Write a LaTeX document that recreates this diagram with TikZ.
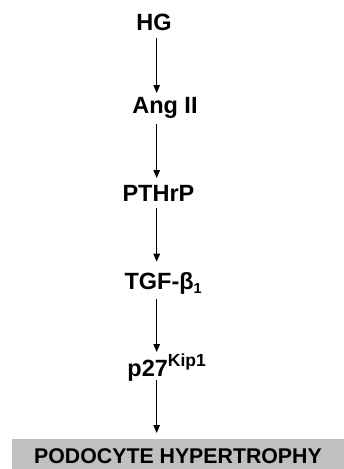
\documentclass[tikz,border=0pt]{standalone}
\usepackage{fontspec}
\setmainfont{Liberation Sans}
\usetikzlibrary{arrows.meta}
\definecolor{boxgray}{HTML}{C0C0C0}
\begin{document}
\begin{tikzpicture}[x=1pt,y=1pt,
  lbl/.style={font=\bfseries\fontsize{23.5}{28}\selectfont, inner sep=0pt, outer sep=0pt, anchor=base west},
  arr/.style={line width=1.3pt, -{Triangle[length=8pt,width=6.5pt]}},
  endbox/.style={fill=boxgray, draw=none, inner sep=0pt, outer sep=0pt,
    minimum width=332pt, minimum height=30pt, text height=18.6pt, text depth=0pt,
    font=\bfseries\fontsize{21.3}{25}\selectfont}
  ]
\useasboundingbox (0,0) rectangle (344,-469);
\coordinate (ax) at (156.7,0);
\node[lbl] (hg)  at (136.3,-30.7)  {HG};
\node[lbl] (ang) at (132.3,-113.3) {Ang II};
\node[lbl] (pth) at (122.5,-201.3) {PTHrP};
\node[lbl] (tgf) at (124.5,-289.3) {TGF-β\raisebox{-4.4pt}{\fontsize{14.5}{16}\selectfont 1}};
\node[lbl] (p27) at (127.4,-376.7) {p27\raisebox{10pt}{\fontsize{17.5}{19}\selectfont Kip1}};
\node[endbox] (box) at (178,-454) {PODOCYTE HYPERTROPHY};
\draw[arr, shorten <=7.3pt, shorten >=20.3pt] (hg.base -| ax) -- (ang.base -| ax);
\draw[arr, shorten <=10.7pt, shorten >=23.3pt] (ang.base -| ax) -- (pth.base -| ax);
\draw[arr, shorten <=6.7pt, shorten >=27.6pt] (pth.base -| ax) -- (tgf.base -| ax);
\draw[arr, shorten <=9.7pt, shorten >=24.7pt] (tgf.base -| ax) -- (p27.base -| ax);
\draw[arr, shorten <=3.3pt, shorten >=6pt] (p27.base -| ax) -- (box.north -| ax);
\end{tikzpicture}
\end{document}
